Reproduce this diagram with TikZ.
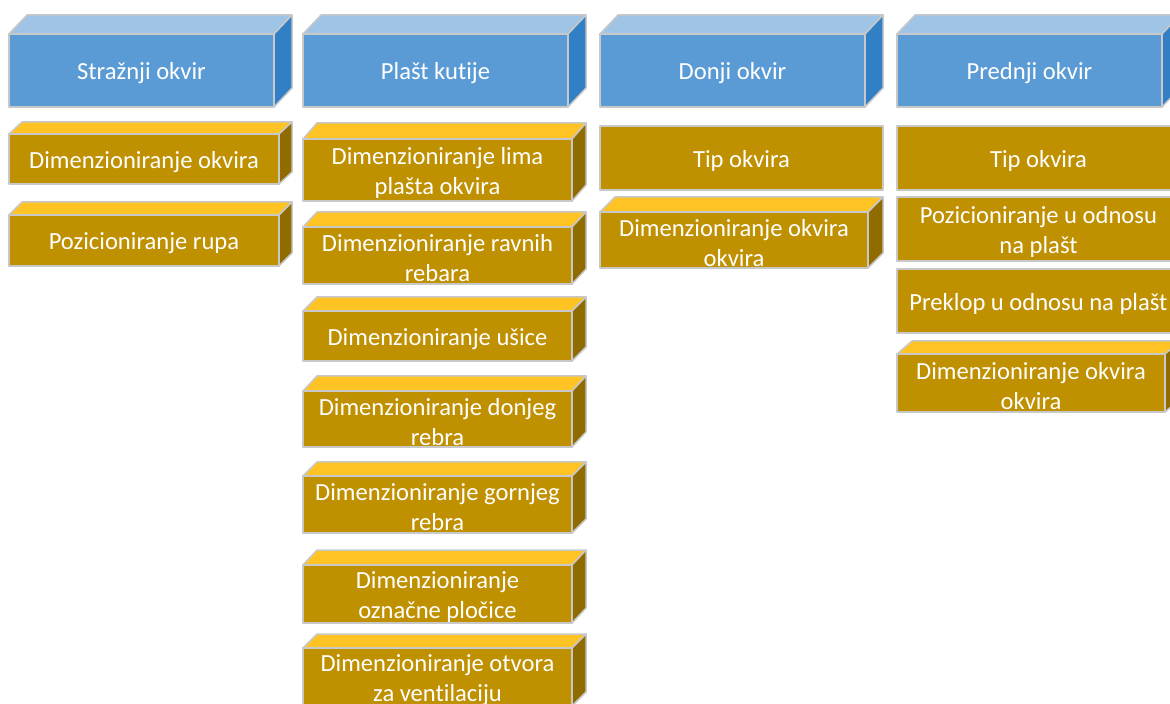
\documentclass[tikz,border=0pt]{standalone}
\usepackage{fontspec}
\setmainfont{Carlito}[Ligatures=NoCommon]
\definecolor{hdrfront}{RGB}{91,155,213}
\definecolor{hdrtop}{RGB}{160,196,230}
\definecolor{hdrside}{RGB}{49,127,196}
\definecolor{itemfront}{RGB}{191,144,0}
\definecolor{itemtop}{RGB}{255,196,36}
\definecolor{itemside}{RGB}{143,107,0}
\definecolor{boxline}{RGB}{200,200,200}

\begin{document}
\begin{tikzpicture}[x=0.5pt, y=-0.5pt,
  boxface/.style={draw=boxline, line width=0.75pt, line join=round},
  boxtext/.style={text=white, align=center, yshift=-1.5pt,
                  font=\fontsize{12.3}{15}\selectfont}]
\useasboundingbox (0,0) rectangle (1170,704);
\clip (0,0) rectangle (1170,704);
% blue headers
\foreach \xa/\name/\lbl in {9/rear/Stražnji okvir, 303/shell/Plašt kutije,
                            600/bottom/Donji okvir, 897/front/Prednji okvir}{
\draw[boxface, fill=hdrtop]   (\xa,34) -- (\xa+18,15) -- (\xa+283,15) -- (\xa+265,34) -- cycle;
\draw[boxface, fill=hdrside]  (\xa+265,34) -- (\xa+283,15) -- (\xa+283,88) -- (\xa+265,107) -- cycle;
\draw[boxface, fill=hdrfront] (\xa,34) rectangle (\xa+265,107);
\node[boxtext] (hdr-\name) at (\xa+132.5,70.5) {\lbl};
}
% flat boxes
\foreach \xa/\ya/\yb/\name/\lbl in {600/126/190/bottom1/Tip okvira,
                                    897/126/190/front1/Tip okvira,
                                    897/197/261/front2/{Pozicioniranje u odnosu\\na plašt},
                                    897/269/333/front3/Preklop u odnosu na plašt}{
\draw[boxface, fill=itemfront] (\xa,\ya) rectangle (\xa+283,\yb);
\node[boxtext] (\name) at (\xa+141.5,{(\ya+\yb)/2}) {\lbl};
}
% gold boxes
\foreach \xa/\xb/\dx/\ya/\yb/\yt/\name/\lbl in {
    9/279/13/134/184/122/rear1/Dimenzioniranje okvira,
    9/279/13/215/266/202/rear2/Pozicioniranje rupa,
    303/572/14/139/201/123/shell1/{Dimenzioniranje lima\\plašta okvira},
    303/572/14/227/284/212/shell2/{Dimenzioniranje ravnih\\rebara},
    303/572/14/311/361/297/shell3/Dimenzioniranje ušice,
    303/572/14/391/447/376/shell4/{Dimenzioniranje donjeg\\rebra},
    303/572/14/476/533/462/shell5/{Dimenzioniranje gornjeg\\rebra},
    303/572/14/565/623/550/shell6/{Dimenzioniranje\\označne pločice},
    303/572/14/648/706/634/shell7/{Dimenzioniranje otvora\\za ventilaciju},
    600/868/15/212/268/197/bottom2/{Dimenzioniranje okvira\\okvira},
    897/1165/15/354/412/341/front4/{Dimenzioniranje okvira\\okvira}}{
\draw[boxface, fill=itemtop]   (\xa,\ya) -- (\xa+\dx,\yt) -- (\xb+\dx,\yt) -- (\xb,\ya) -- cycle;
\draw[boxface, fill=itemside]  (\xb,\ya) -- (\xb+\dx,\yt) -- (\xb+\dx,{\yb-(\ya-\yt)}) -- (\xb,\yb) -- cycle;
\draw[boxface, fill=itemfront] (\xa,\ya) rectangle (\xb,\yb);
\node[boxtext] (\name) at ({(\xa+\xb)/2},{(\ya+\yb)/2}) {\lbl};
}
\end{tikzpicture}
\end{document}
